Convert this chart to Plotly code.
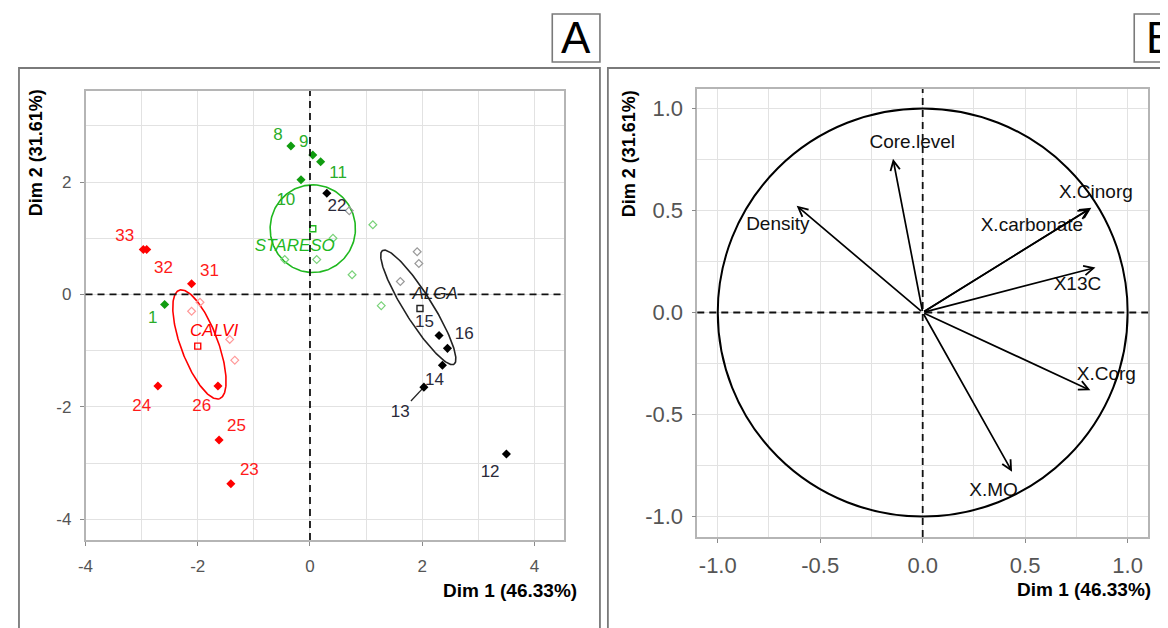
import numpy as np
import plotly.graph_objects as go

W, H = 1168, 628
OFF = 8  # page body margin in the browser
FW, FH = W - OFF, H - OFF
FONT = "Liberation Sans, Arial, sans-serif"

# ---------------- Panel A data (individuals) ----------------
green_labels = ["1", "8", "9", "10", "11"]
green_x = [-2.59, -0.34, 0.05, -0.16, 0.19]
green_y = [-0.18, 2.64, 2.48, 2.04, 2.36]
green_lab_x = [-2.80, -0.57, -0.11, -0.43, 0.50]
green_lab_y = [-0.44, 2.82, 2.70, 1.67, 2.15]

red_labels = ["23", "24", "25", "26", "31", "32", "33"]
red_x = [-1.41, -2.71, -1.62, -1.64, -2.11, -2.91, -2.97]
red_y = [-3.37, -1.63, -2.59, -1.63, 0.19, 0.80, 0.80]
red_lab_x = [-1.08, -3.00, -1.31, -1.93, -1.79, -2.61, -3.30]
red_lab_y = [-3.14, -1.99, -2.36, -1.99, 0.41, 0.46, 1.03]

black_labels = ["12", "13", "14", "15", "16", "22"]
black_x = [3.50, 2.03, 2.36, 2.30, 2.45, 0.30]
black_y = [-2.84, -1.65, -1.26, -0.73, -0.96, 1.80]
black_lab_x = [3.21, 1.61, 2.22, 2.04, 2.75, 0.48]
black_lab_y = [-3.18, -2.10, -1.53, -0.50, -0.71, 1.56]

# supplementary individuals (open diamonds)
sup_red_x = [-1.96, -2.11, -1.43, -1.34]
sup_red_y = [-0.14, -0.30, -0.80, -1.17]
sup_green_x = [1.12, 0.75, 0.41, 0.12, -0.45, 1.27]
sup_green_y = [1.24, 0.35, 1.00, 0.62, 0.62, -0.20]
sup_grey_x = [1.91, 1.94, 1.61, 0.70]
sup_grey_y = [0.76, 0.55, 0.23, 1.49]

# groups: centroid, label position, confidence ellipse
group_names = ["CALVI", "STARESO", "ALGA"]
group_cx = [-2.00, 0.05, 1.96]
group_cy = [-0.92, 1.17, -0.25]
group_lab_x = [-1.71, -0.27, 2.23]
group_lab_y = [-0.67, 0.85, 0.00]
ell_cx = [-1.97, 0.05, 1.93]
ell_cy = [-0.89, 1.17, -0.23]
ell_a = [1.03, 0.78, 1.195]
ell_b = [0.33, 0.76, 0.245]
ell_angle = [-69.5, 90.0, -57.8]
group_colors = ["#ff0000", "#1fb81f", "#222222"]

# ---------------- Panel B data (variables) ----------------
var_names = ["Density", "Core.level", "X.Cinorg", "X.carbonate", "X13C", "X.Corg", "X.MO"]
var_x = [-0.615, -0.145, 0.823, 0.815, 0.843, 0.818, 0.436]
var_y = [0.523, 0.753, 0.513, 0.508, 0.220, -0.381, -0.780]
var_lab_x = [-0.707, -0.051, 0.845, 0.533, 0.755, 0.896, 0.346]
var_lab_y = [0.428, 0.829, 0.584, 0.423, 0.134, -0.308, -0.878]

x1_ticks = [-4, -2, 0, 2, 4]
x1_minor = [-3, -1, 1, 3]
y1_ticks = [-4, -2, 0, 2]
y1_minor = [-3, -1, 1, 3]
x2_ticks = [-1.0, -0.5, 0.0, 0.5, 1.0]
x2_minor = [-0.75, -0.25, 0.25, 0.75]
y2_ticks = [-1.0, -0.5, 0.0, 0.5, 1.0]
y2_minor = [-0.75, -0.25, 0.25, 0.75]


def px(x):
    return (x - OFF) / FW


def py(y):
    return 1 - (y - OFF) / FH


fig = go.Figure()

# ellipses
t = np.linspace(0, 2 * np.pi, 200)
for cx, cy, a, b, ang, col in zip(ell_cx, ell_cy, ell_a, ell_b, ell_angle, group_colors):
    th = np.deg2rad(ang)
    ex = cx + a * np.cos(t) * np.cos(th) - b * np.sin(t) * np.sin(th)
    ey = cy + a * np.cos(t) * np.sin(th) + b * np.sin(t) * np.cos(th)
    fig.add_trace(go.Scatter(x=ex, y=ey, mode="lines", line=dict(color=col, width=1.6),
                             hoverinfo="skip", showlegend=False, xaxis="x", yaxis="y"))

# supplementary open diamonds
for sx, sy, col in [(sup_red_x, sup_red_y, "#ff9a9a"), (sup_green_x, sup_green_y, "#79d279"),
                    (sup_grey_x, sup_grey_y, "#9a9a9a")]:
    fig.add_trace(go.Scatter(x=sx, y=sy, mode="markers",
                             marker=dict(symbol="diamond-open", size=6, color=col, line=dict(width=1.2)),
                             showlegend=False, xaxis="x", yaxis="y"))

# leader segment for label 13
i13 = black_labels.index("13")
seg_x = [black_x[i13], black_x[i13] + 0.55 * (black_lab_x[i13] - black_x[i13])]
seg_y = [black_y[i13], black_y[i13] + 0.55 * (black_lab_y[i13] - black_y[i13])]
fig.add_trace(go.Scatter(x=seg_x, y=seg_y, mode="lines", line=dict(color="#222222", width=1.3),
                         showlegend=False, xaxis="x", yaxis="y"))

# active individuals
for xs, ys, col in [(green_x, green_y, "#109c10"), (red_x, red_y, "#ff0000"), (black_x, black_y, "#000000")]:
    fig.add_trace(go.Scatter(x=xs, y=ys, mode="markers",
                             marker=dict(symbol="diamond", size=7, color=col),
                             showlegend=False, xaxis="x", yaxis="y"))

# individual labels
for lx, ly, labs, col in [(green_lab_x, green_lab_y, green_labels, "#2aad2a"),
                          (red_lab_x, red_lab_y, red_labels, "#ff1a1a"),
                          (black_lab_x, black_lab_y, black_labels, "#2a2a3a")]:
    fig.add_trace(go.Scatter(x=lx, y=ly, mode="text", text=labs, textposition="middle center",
                             textfont=dict(family=FONT, size=17, color=col),
                             showlegend=False, xaxis="x", yaxis="y"))

# centroids
fig.add_trace(go.Scatter(x=group_cx, y=group_cy, mode="markers",
                         marker=dict(symbol="square-open", size=6, color=group_colors, line=dict(width=1.4)),
                         showlegend=False, xaxis="x", yaxis="y"))
fig.add_trace(go.Scatter(x=group_lab_x, y=group_lab_y, mode="text",
                         text=["<i>%s</i>" % g for g in group_names], textposition="middle center",
                         textfont=dict(family=FONT, size=17, color=group_colors),
                         showlegend=False, xaxis="x", yaxis="y"))

# ---------- panel B ----------
fig.add_trace(go.Scatter(x=[0], y=[0], mode="markers", marker=dict(size=1, color="rgba(0,0,0,0)"),
                         showlegend=False, xaxis="x2", yaxis="y2"))
fig.add_trace(go.Scatter(x=var_lab_x, y=var_lab_y, mode="text", text=var_names,
                         textposition="middle center", textfont=dict(family=FONT, size=19, color="#111111"),
                         showlegend=False, xaxis="x2", yaxis="y2"))

shapes = []
# unit circle
shapes.append(dict(type="circle", xref="x2", yref="y2", x0=-1, y0=-1, x1=1, y1=1,
                   line=dict(color="#000000", width=2), layer="above"))
# dashed axes
for xr, yr in [("x", "y"), ("x2", "y2")]:
    shapes.append(dict(type="line", xref=xr + " domain", yref=yr, x0=0, x1=1, y0=0, y1=0,
                       line=dict(color="#111111", width=1.8, dash="7px,5px"), layer="above"))
    shapes.append(dict(type="line", xref=xr, yref=yr + " domain", x0=0, x1=0, y0=0, y1=1,
                       line=dict(color="#111111", width=1.8, dash="7px,5px"), layer="above"))

# outer panel frames
frame_col = "#7a7a7a"
shapes.append(dict(type="rect", xref="paper", yref="paper", x0=px(11), x1=px(596), y0=py(640), y1=py(68),
                   line=dict(color=frame_col, width=1.8)))
shapes.append(dict(type="rect", xref="paper", yref="paper", x0=px(604), x1=px(1180), y0=py(640), y1=py(68),
                   line=dict(color=frame_col, width=1.8)))
shapes.append(dict(type="rect", xref="paper", yref="paper", x0=px(548), x1=px(596), y0=py(62), y1=py(14),
                   line=dict(color=frame_col, width=1.6)))
shapes.append(dict(type="rect", xref="paper", yref="paper", x0=px(1134), x1=px(1185), y0=py(62), y1=py(14),
                   line=dict(color=frame_col, width=1.6)))

annotations = []
for vx, vy in zip(var_x, var_y):
    annotations.append(dict(x=vx, y=vy, ax=0, ay=0, xref="x2", yref="y2", axref="x2", ayref="y2",
                            text="", showarrow=True, arrowhead=5, arrowsize=1.1, arrowwidth=1.7,
                            arrowcolor="#000000"))

title_font = dict(family=FONT, size=18, color="#000000")
annotations += [
    dict(text="<b>Dim 2 (31.61%)</b>", x=px(28), y=py(87), xref="paper", yref="paper",
         xanchor="center", yanchor="top", textangle=-90, showarrow=False, font=title_font),
    dict(text="<b>Dim 2 (31.61%)</b>", x=px(625), y=py(88), xref="paper", yref="paper",
         xanchor="center", yanchor="top", textangle=-90, showarrow=False, font=title_font),
    dict(text="<b>Dim 1 (46.33%)</b>", x=px(575), y=py(590), xref="paper", yref="paper",
         xanchor="right", yanchor="middle", showarrow=False, font=dict(family=FONT, size=19, color="#000")),
    dict(text="<b>Dim 1 (46.33%)</b>", x=px(1153), y=py(589), xref="paper", yref="paper",
         xanchor="right", yanchor="middle", showarrow=False, font=dict(family=FONT, size=19, color="#000")),
    dict(text="A", x=px(572), y=py(38), xref="paper", yref="paper", xanchor="center", yanchor="middle",
         showarrow=False, font=dict(family=FONT, size=44, color="#000")),
    dict(text="B", x=px(1160), y=py(38), xref="paper", yref="paper", xanchor="center", yanchor="middle",
         showarrow=False, font=dict(family=FONT, size=44, color="#000")),
]

grid_col = "#e2e2e2"
border_col = "#b5b5b5"
tick_font_a = dict(family=FONT, size=17, color="#555555")
tick_font_b = dict(family=FONT, size=22, color="#555555")


def axis(domain, rng, ticks, minor, tfont, fmt, anchor, **kw):
    return dict(domain=domain, range=rng, tickvals=ticks, ticktext=[fmt % v for v in ticks],
                showgrid=True, gridcolor=grid_col, gridwidth=1.2, zeroline=False,
                showline=True, linecolor=border_col, linewidth=1.5, mirror=True,
                ticks="outside", ticklen=4, tickcolor="#8a8a8a", tickwidth=1.2,
                tickfont=tfont, anchor=anchor,
                minor=dict(tickvals=minor, showgrid=True, gridcolor=grid_col, gridwidth=1.2, ticks=""),
                **kw)


fig.update_layout(
    width=FW, height=FH, margin=dict(l=0, r=0, t=0, b=0, pad=0),
    paper_bgcolor="white", plot_bgcolor="white", showlegend=False,
    xaxis=axis([px(78), px(560)], [-4.0, 4.53], x1_ticks, x1_minor, tick_font_a, "%g", "y", ticklabelstandoff=6),
    yaxis=axis([py(540), py(91)], [-4.37, 3.62], y1_ticks, y1_minor, tick_font_a, "%g", "x", ticklabelstandoff=5),
    xaxis2=axis([px(694), px(1148)], [-1.10, 1.10], x2_ticks, x2_minor, tick_font_b, "%.1f", "y2", ticklabelstandoff=4),
    yaxis2=axis([py(537), py(89)], [-1.10, 1.095], y2_ticks, y2_minor, tick_font_b, "%.1f", "x2", ticklabelstandoff=4),
    shapes=shapes, annotations=annotations,
)

fig.write_html("out.html")
